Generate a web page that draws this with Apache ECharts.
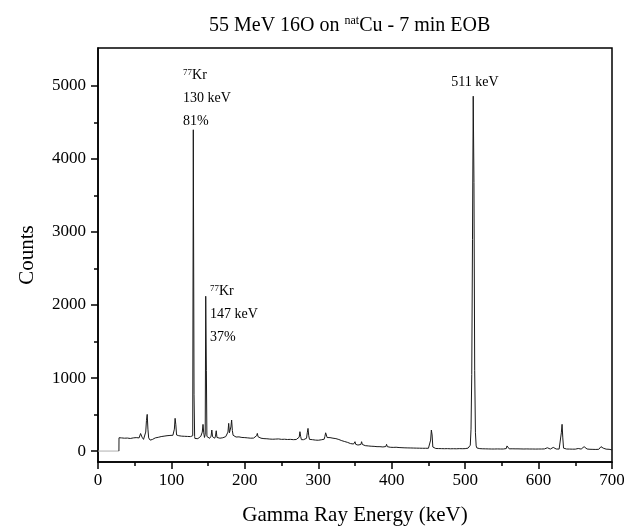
<!DOCTYPE html>
<html>
<head>
<meta charset="utf-8">
<title>55 MeV 16O on natCu - 7 min EOB</title>
<script src="https://cdn.jsdelivr.net/npm/echarts@6.0.0/dist/echarts.min.js"></script>
<style>
  html, body { margin: 0; padding: 0; background: #fff; }
  #chart { width: 624px; height: 527px; }
</style>
</head>
<body>
<div id="chart"></div>
<script>
// gamma spectrum, energy in keV and counts per channel
const energy = [
  28.5, 28.6, 30, 32, 34, 36, 38, 40, 42, 44, 46, 48, 50, 52, 54, 56, 57, 58, 59, 60,
  61, 62, 63, 64, 65, 66, 67, 68, 69, 70, 71, 72, 74, 76, 78, 80, 82, 84, 86, 88,
  90, 92, 94, 96, 98, 100, 102, 103, 104, 105, 106, 107, 108, 110, 112, 114, 116, 118, 120, 122,
  124, 126, 128, 129, 129.8, 130.8, 131.6, 132, 134, 136, 138, 140, 142, 143, 144, 145, 146, 146.7, 147.6, 148.3,
  149, 150, 152, 154, 155, 156, 157, 158, 159, 160, 161, 162, 163, 164, 166, 168, 170, 172, 174, 176,
  177, 178, 179, 180, 181, 182, 183, 184, 185, 186, 188, 190, 192, 194, 196, 198, 200, 202, 204, 206,
  208, 210, 212, 214, 216, 217, 218, 219, 220, 222, 224, 226, 228, 230, 232, 234, 236, 238, 240, 242,
  244, 246, 248, 250, 252, 254, 256, 258, 260, 262, 264, 266, 268, 270, 272, 274, 275, 276, 277, 278,
  280, 282, 284, 285, 286, 287, 288, 290, 292, 294, 296, 298, 300, 302, 304, 306, 308, 309, 310, 311,
  312, 314, 316, 318, 320, 322, 324, 326, 328, 330, 332, 334, 336, 338, 340, 342, 344, 346, 348, 349,
  350, 351, 352, 354, 356, 358, 359, 360, 362, 364, 366, 368, 370, 372, 374, 376, 378, 380, 382, 384,
  386, 388, 390, 392, 393, 394, 396, 398, 400, 402, 404, 406, 408, 410, 412, 414, 416, 418, 420, 422,
  424, 426, 428, 430, 432, 434, 436, 438, 440, 442, 444, 446, 448, 450, 452, 453, 454, 455, 456, 457,
  458, 460, 462, 464, 466, 468, 470, 472, 474, 476, 478, 480, 482, 484, 486, 488, 490, 492, 494, 496,
  498, 500, 502, 504, 506, 507, 508, 509, 510, 511, 512, 513, 514, 515, 516, 518, 520, 522, 524, 526,
  528, 530, 532, 534, 536, 538, 540, 542, 544, 546, 548, 550, 552, 554, 556, 557, 558, 559, 560, 562,
  564, 566, 568, 570, 572, 574, 576, 578, 580, 582, 584, 586, 588, 590, 592, 594, 596, 598, 600, 602,
  604, 606, 608, 610, 612, 613, 614, 616, 618, 620, 621, 622, 624, 626, 628, 630, 631, 632, 633, 634,
  636, 638, 640, 642, 644, 646, 648, 650, 652, 654, 655, 656, 658, 660, 662, 663, 664, 666, 668, 670,
  672, 674, 676, 678, 680, 682, 684, 685, 686, 687, 688, 690, 692, 694, 696, 698, 700
];
const counts = [
  0, 182, 165, 180, 162, 176, 158, 178, 166, 172, 160, 180, 170, 184, 166, 180, 205, 240, 265, 190,
  172, 160, 176, 168, 260, 420, 502, 300, 180, 160, 150, 172, 158, 170, 180, 166, 188, 176, 198, 184,
  204, 192, 210, 196, 214, 200, 216, 222, 300, 448, 360, 220, 196, 210, 188, 204, 186, 202, 184, 200,
  182, 198, 186, 210, 4400, 770, 200, 172, 192, 170, 188, 202, 260, 365, 250, 186, 230, 2120, 1100, 200,
  178, 196, 174, 204, 288, 196, 172, 190, 176, 204, 278, 186, 170, 190, 176, 194, 182, 204, 198, 224,
  260, 379, 250, 226, 330, 425, 280, 216, 200, 206, 192, 200, 194, 196, 186, 200, 184, 194, 180, 192,
  176, 190, 178, 194, 210, 242, 196, 178, 184, 176, 180, 170, 178, 168, 180, 164, 176, 162, 174, 164,
  178, 166, 170, 160, 172, 162, 168, 158, 170, 160, 166, 156, 168, 158, 172, 190, 265, 200, 156, 164,
  156, 164, 175, 250, 310, 210, 160, 164, 156, 162, 150, 160, 148, 160, 154, 168, 162, 200, 250, 220,
  185, 170, 184, 166, 176, 160, 170, 156, 158, 146, 142, 130, 130, 116, 118, 104, 102, 92, 96, 104,
  128, 92, 90, 82, 86, 90, 128, 90, 82, 74, 78, 70, 76, 66, 70, 64, 68, 60, 64, 60,
  62, 56, 64, 62, 92, 60, 60, 52, 58, 50, 54, 52, 50, 48, 52, 46, 50, 44, 49, 43,
  48, 42, 47, 41, 46, 40, 45, 39, 44, 38, 43, 38, 42, 38, 48, 150, 288, 220, 55, 38,
  40, 35, 39, 34, 38, 33, 37, 32, 36, 33, 36, 31, 35, 32, 36, 31, 35, 33, 36, 32,
  37, 33, 38, 40, 48, 80, 300, 1050, 2900, 4860, 3680, 1100, 250, 70, 42, 36, 33, 36, 31, 34,
  30, 33, 29, 33, 28, 32, 28, 31, 29, 32, 28, 31, 28, 32, 34, 70, 92, 50, 30, 28,
  31, 27, 30, 26, 30, 27, 29, 25, 28, 26, 29, 25, 28, 26, 28, 24, 27, 25, 28, 24,
  28, 25, 29, 30, 45, 59, 35, 27, 30, 50, 35, 26, 28, 24, 27, 30, 250, 366, 180, 40,
  26, 28, 23, 27, 22, 26, 23, 26, 24, 35, 55, 40, 27, 30, 60, 82, 45, 28, 30, 24,
  28, 23, 26, 22, 26, 24, 30, 60, 82, 50, 40, 35, 26, 22, 24, 18, 16
];
// empty channels below the threshold
const lowEnergy = [0, 28.5];
const lowCounts = [0, 0];

// y axis ticks
const yLabelValues = [0, 1000, 2000, 3000, 4000, 5000];
const yMinorValues = [500, 1500, 2500, 3500, 4500];

// peak annotations: [energy, counts] of the text anchor
const krLabel130 = { coord: [115.8, 5300], lines: ['130 keV', '81%'] };
const krLabel147 = { coord: [152.5, 2345], lines: ['147 keV', '37%'] };
const annihLabel = { coord: [513.4, 5055], text: '511 keV' };

const serif = 'Liberation Serif';
const spectrum = energy.map((e, i) => [e, counts[i]]);
const lowPart = lowEnergy.map((e, i) => [e, lowCounts[i]]);

const krRich = {
  sup: { fontFamily: serif, fontSize: 9, color: '#000', padding: [0, 0, 6, 0] },
  t: { fontFamily: serif, fontSize: 14, color: '#000', lineHeight: 23 }
};
function krText(lines) {
  return ['{sup|77}{t|Kr}'].concat(lines.map(l => '{t|' + l + '}')).join('\n');
}

const chart = echarts.init(document.getElementById('chart'));
chart.setOption({
  animation: false,
  backgroundColor: '#fff',
  title: {
    text: '{t|55 MeV 16O on }{sup|nat}{t|Cu - 7 min EOB}',
    left: 204,
    top: 10,
    textStyle: {
      fontWeight: 'normal',
      rich: {
        t: { fontFamily: serif, fontSize: 20, fontWeight: 'normal', color: '#000' },
        sup: { fontFamily: serif, fontSize: 12, fontWeight: 'normal', color: '#000', padding: [0, 0, 9, 0] }
      }
    }
  },
  grid: {
    left: 98, right: 12, top: 48, bottom: 65,
    outerBoundsMode: 'none',
    show: true, borderColor: '#000', borderWidth: 1.5
  },
  xAxis: {
    type: 'value',
    min: 0, max: 700, interval: 100,
    name: 'Gamma Ray Energy (keV)',
    nameLocation: 'middle',
    nameGap: 43,
    nameTextStyle: { fontFamily: serif, fontSize: 21, color: '#000' },
    axisLine: { onZero: false, lineStyle: { color: '#000', width: 1.5 } },
    axisTick: { length: 7, lineStyle: { color: '#000', width: 1.5 } },
    minorTick: { show: true, splitNumber: 2, length: 4, lineStyle: { color: '#000', width: 1.5 } },
    axisLabel: { fontFamily: serif, fontSize: 17, color: '#000', margin: 10 },
    splitLine: { show: false }
  },
  yAxis: [{
    type: 'value',
    min: -150, max: 5520,
    name: 'Counts',
    nameLocation: 'middle',
    nameGap: 60,
    nameTextStyle: { fontFamily: serif, fontSize: 21, color: '#000' },
    axisLine: { show: true, onZero: false, lineStyle: { color: '#000', width: 1.5 } },
    axisTick: { show: true, length: 7, customValues: yLabelValues, lineStyle: { color: '#000', width: 1.5 } },
    axisLabel: {
      fontFamily: serif, fontSize: 17, color: '#000', margin: 12,
      customValues: yLabelValues, formatter: v => String(v)
    },
    splitLine: { show: false }
  }, {
    type: 'value',
    position: 'left',
    min: -150, max: 5520,
    axisLine: { show: false },
    axisTick: { show: true, length: 4, customValues: yMinorValues, lineStyle: { color: '#000', width: 1.5 } },
    axisLabel: { show: false },
    splitLine: { show: false }
  }],
  series: [{
    type: 'line',
    data: lowPart,
    showSymbol: false,
    silent: true,
    lineStyle: { color: '#b0b0b0', width: 1 }
  }, {
    type: 'line',
    data: spectrum,
    showSymbol: false,
    silent: true,
    lineStyle: { color: '#1a1a1a', width: 1 },
    markPoint: {
      symbol: 'circle',
      symbolSize: 0,
      silent: true,
      data: [{
        coord: krLabel130.coord,
        label: {
          show: true, position: [0, 0], align: 'left', verticalAlign: 'top',
          formatter: krText(krLabel130.lines), rich: krRich
        }
      }, {
        coord: krLabel147.coord,
        label: {
          show: true, position: [0, 0], align: 'left', verticalAlign: 'top',
          formatter: krText(krLabel147.lines), rich: krRich
        }
      }, {
        coord: annihLabel.coord,
        label: {
          show: true, position: [0, 0], align: 'center', verticalAlign: 'middle',
          formatter: annihLabel.text, fontFamily: serif, fontSize: 14, color: '#000'
        }
      }]
    }
  }]
});
</script>
</body>
</html>
